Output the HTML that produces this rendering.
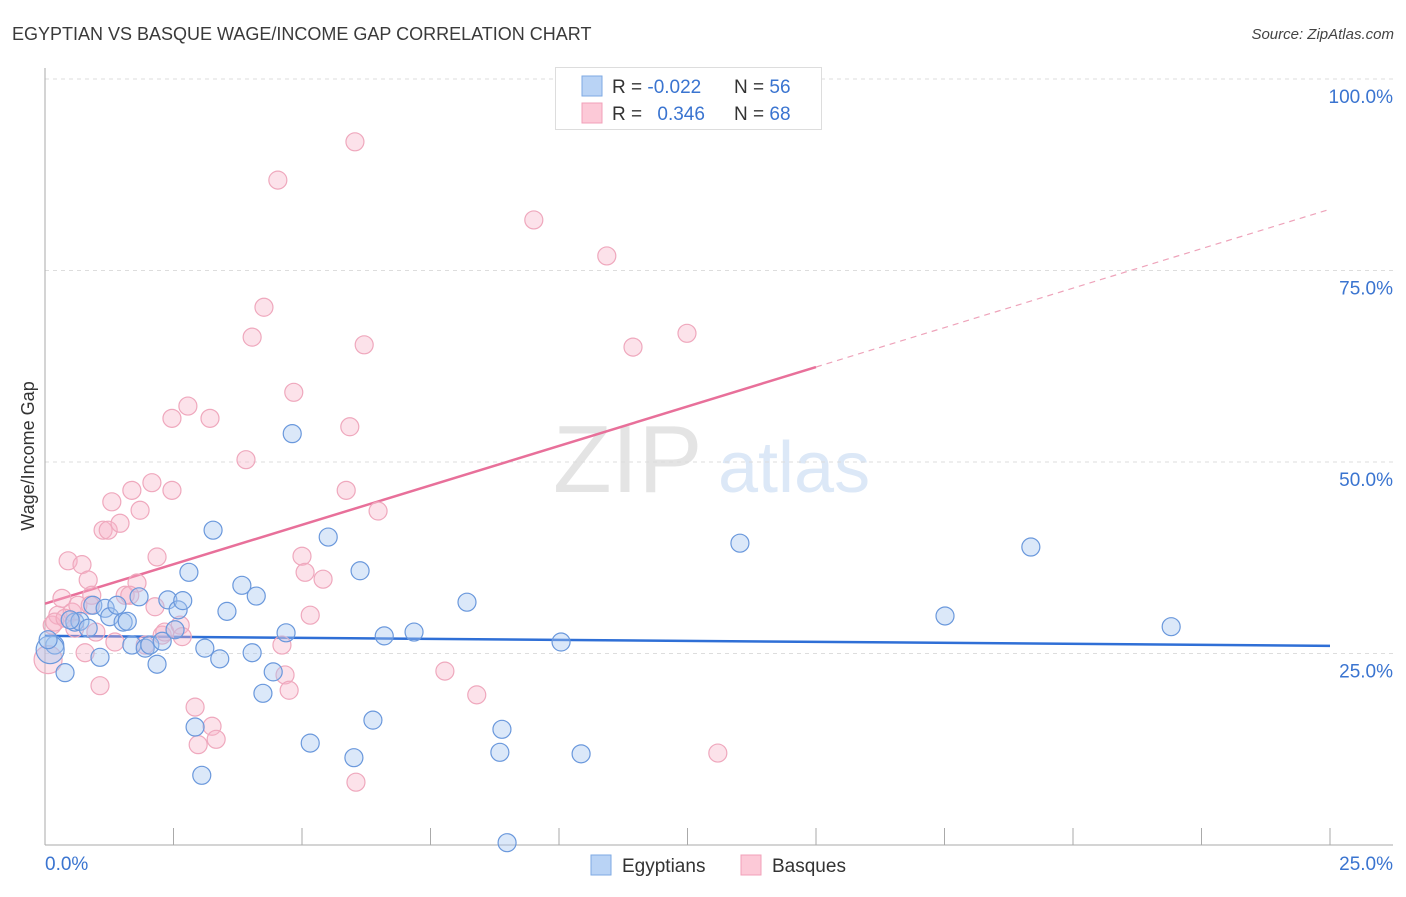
<!DOCTYPE html>
<html><head><meta charset="utf-8"><style>
body{margin:0;background:#fff;font-family:"Liberation Sans",sans-serif}
svg text{font-family:"Liberation Sans",sans-serif}
</style></head><body>
<svg id="chart" width="1406" height="892" viewBox="0 0 1406 892" xmlns="http://www.w3.org/2000/svg">
<text x="12" y="40" font-size="18" fill="#3a3a3a">EGYPTIAN VS BASQUE WAGE/INCOME GAP CORRELATION CHART</text>
<text x="1394" y="39" font-size="15" font-style="italic" fill="#444" text-anchor="end">Source: ZipAtlas.com</text>
<g>
<text x="553" y="492" font-size="96" font-family="Liberation Serif,serif" fill="#e4e4e4">ZIP</text>
<text x="718" y="492" font-size="72" fill="#dce8f7">atlas</text>
</g>
<g id="grid"></g>
<g id="axes"></g>
<g id="trend"></g>
<g id="pts"></g>
<text transform="translate(34,456) rotate(-90)" font-size="18" fill="#333" text-anchor="middle">Wage/Income Gap</text>
<g>
<rect x="555.5" y="67.5" width="266" height="62" fill="#fff" stroke="#ddd"/>
<rect x="582" y="76" width="20" height="20" fill="#b9d3f5" stroke="#7ea9e3"/>
<rect x="582" y="103" width="20" height="20" fill="#fcc9d7" stroke="#f2a0b8"/>
<text x="612" y="93" font-size="19" fill="#333">R = <tspan fill="#3a74d0">-0.022</tspan></text>
<text x="734" y="93" font-size="19" fill="#333">N = <tspan fill="#3a74d0">56</tspan></text>
<text x="612" y="120" font-size="19" fill="#333">R = <tspan fill="#3a74d0" dx="10">0.346</tspan></text>
<text x="734" y="120" font-size="19" fill="#333">N = <tspan fill="#3a74d0">68</tspan></text>
</g>
<g>
<g><rect x="591" y="855" width="20" height="20" fill="#b9d3f5" stroke="#7ea9e3"/><text x="622" y="872" font-size="19" fill="#333">Egyptians</text></g>
<g><rect x="741" y="855" width="20" height="20" fill="#fcc9d7" stroke="#f2a0b8"/><text x="772" y="872" font-size="19" fill="#333">Basques</text></g>
</g>
</svg>
<script>
const blueX=[0.19,0.39,0.58,0.68,0.84,0.93,1.07,1.17,1.26,1.40,1.52,1.60,1.69,1.83,1.95,2.04,2.18,2.28,2.39,2.53,2.59,2.68,2.80,2.92,3.05,3.11,3.27,3.40,3.54,3.83,4.03,4.11,4.24,4.44,4.69,4.81,5.16,5.51,6.01,6.13,6.38,6.60,7.18,8.21,8.85,8.89,8.99,10.04,10.43,13.52,17.51,19.18,21.91,0.10,0.49,0.06];
const blueY=[26.1,22.5,29.1,29.2,28.3,31.3,24.5,30.9,29.8,31.3,29.1,29.2,26.1,32.4,25.7,26.1,23.6,26.6,32.0,28.1,30.7,31.9,35.6,15.4,9.1,25.7,41.1,24.3,30.5,33.9,25.1,32.5,19.8,22.6,27.7,53.7,13.3,40.2,11.4,35.8,16.3,27.3,27.8,31.7,12.1,15.1,0.3,26.5,11.9,39.4,29.9,38.9,28.5,25.5,29.4,26.8];
const pinkX=[0.06,0.14,0.25,0.33,0.45,0.53,0.64,0.72,0.78,0.84,0.91,0.99,1.07,1.13,1.23,1.30,1.36,1.46,1.56,1.69,1.79,1.85,1.95,2.08,2.14,2.18,2.28,2.33,2.47,2.47,2.63,2.67,2.78,2.92,2.98,3.21,3.25,3.33,3.91,4.03,4.26,4.53,4.61,4.67,4.75,4.84,5.00,5.06,5.16,5.41,5.86,5.93,6.03,6.05,6.21,6.48,7.78,8.40,9.51,10.93,11.44,12.49,13.09,0.19,0.39,0.58,0.88,1.65];
const pinkY=[24.2,28.7,30.0,32.2,37.1,30.4,31.3,36.6,25.1,34.6,32.6,27.8,20.8,41.1,41.1,44.8,26.5,42.0,32.6,46.3,34.2,43.7,26.1,47.3,31.1,37.6,27.4,27.8,46.3,55.7,28.7,27.2,57.3,18.0,13.1,55.7,15.5,13.8,50.3,66.3,70.2,86.8,26.1,22.2,20.2,59.1,37.7,35.6,30.0,34.7,46.3,54.6,91.8,8.2,65.3,43.6,22.7,19.6,81.6,76.9,65.0,66.8,12.0,29.1,29.6,28.3,31.3,32.6];
const blueTrend=[27.3,26.0];
const pinkTrend=[31.5,83.0];
const pinkSolidEnd=15.0;
const yTicks=[25,50,75,100];
const yTickLabels=["25.0%","50.0%","75.0%","100.0%"];

const NS="http://www.w3.org/2000/svg";
const X=v=>45+v/25*1285;
const Y=v=>845-v/100*766;
function mk(tag,at,parent){const e=document.createElementNS(NS,tag);for(const k in at)e.setAttribute(k,at[k]);parent.appendChild(e);return e;}
const grid=document.getElementById('grid'),axes=document.getElementById('axes'),trend=document.getElementById('trend'),pts=document.getElementById('pts');
yTicks.forEach((t,i)=>{
  const l=mk('line',{x1:45,x2:1393,y1:Y(t),y2:Y(t),stroke:'#ddd','stroke-dasharray':'4,4'},grid);
  
  
  const tx=mk('text',{x:1393,y:Y(t)+24,'font-size':19,fill:'#3a74d0','text-anchor':'end'},axes);
  tx.textContent=yTickLabels[i];
  
  
});
mk('line',{x1:45,x2:45,y1:68,y2:845,stroke:'#aaa'},axes);
mk('line',{x1:45,x2:1393,y1:845,y2:845,stroke:'#aaa'},axes);
for(let k=0;k<=10;k++){const xt=X(k*2.5);const t=mk('line',{x1:xt,x2:xt,y1:828,y2:845,stroke:'#aaa'},axes);
  
  }
const x0=mk('text',{x:45,y:870,'font-size':19,fill:'#3a74d0'},axes);x0.textContent="0.0%";


const x1=mk('text',{x:1393,y:870,'font-size':19,fill:'#3a74d0','text-anchor':'end'},axes);x1.textContent="25.0%";



function draw(xs,ys,fill,stroke,name,bigIdx){
  xs.forEach((x,i)=>{
    const big=bigIdx.includes(i);
    const c=mk('circle',{cx:X(x),cy:Y(ys[i]),r:big?14:9,fill:fill,stroke:stroke,'stroke-width':1.2},pts);
    
    
  });
}
draw(pinkX,pinkY,'rgba(247,180,200,0.38)','#efa8bd','basque-point',[0]);
draw(blueX,blueY,'rgba(165,198,240,0.4)','#6a98dc','egyptian-point',[53]);

const pAt=x=>pinkTrend[0]+(pinkTrend[1]-pinkTrend[0])*x/25;
const bl=mk('line',{x1:X(0),y1:Y(blueTrend[0]),x2:X(25),y2:Y(blueTrend[1]),stroke:'#2f6fd6','stroke-width':2.5},trend);


const pl=mk('line',{x1:X(0),y1:Y(pAt(0)),x2:X(pinkSolidEnd),y2:Y(pAt(pinkSolidEnd)),stroke:'#e8709a','stroke-width':2.5},trend);


const pd=mk('line',{x1:X(pinkSolidEnd),y1:Y(pAt(pinkSolidEnd)),x2:X(25),y2:Y(pAt(25)),stroke:'#eea3ba','stroke-width':1.2,'stroke-dasharray':'6,5'},trend);


</script>
</body></html>
